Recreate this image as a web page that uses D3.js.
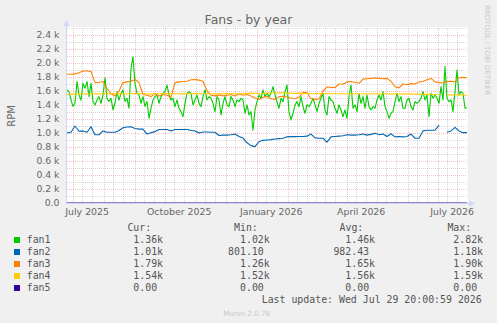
<!DOCTYPE html>
<html>
<head>
<meta charset="utf-8">
<script src="https://cdn.jsdelivr.net/npm/d3@7/dist/d3.min.js"></script>
<style>
  body { margin: 0; background: #f0f0f0; }
  svg { display: block; }
  text { font-family: "DejaVu Sans", sans-serif; fill: #666; }
  .mono { font-family: "DejaVu Sans Mono", monospace; font-size: 9.9px; fill: #555; white-space: pre; }
</style>
</head>
<body>
<div id="chart"></div>
<script>
'use strict';

// time window of the munin "year" graph (400 days)
var startTime = new Date(2025, 5, 24, 20, 0, 59);
var endTime = new Date(2026, 6, 29, 20, 0, 59);

var seriesNames = ['fan1', 'fan2', 'fan3', 'fan4', 'fan5'];
var seriesColors = ['#00cc00', '#0066b3', '#ff8000', '#ffcc00', '#330099'];

// fan1: one sample every 2 days
var fan1 = [
  1615, 1590, 1470, 1380, 1425, 1735, 1545, 1470, 1710, 1640, 1735, 1520, 1710, 1450, 1400, 1470, 1520,
  1425, 1545, 1790, 1495, 1450, 1495, 1330, 1425, 1590, 1470, 1565, 1615, 1450, 1495, 1355, 1925, 2090,
  1710, 1565, 1545, 1425, 1520, 1380, 1450, 1210, 1355, 1470, 1520, 1545, 1425, 1520, 1565, 1590, 1685,
  1543, 1472, 1496, 1377, 1472, 1353, 1305, 1234, 1424, 1567, 1591, 1567, 1401, 1472, 1543, 1424, 1377,
  1520, 1615, 1472, 1520, 1496, 1424, 1305, 1520, 1472, 1258, 1424, 1520, 1401, 1377, 1520, 1472, 1377,
  1472, 1448, 1496, 1472, 1282, 1401, 1258, 1305, 1040, 1329, 1448, 1543, 1496, 1615, 1520, 1567,
  1520, 1567, 1662, 1543, 1448, 1353, 1496, 1448, 1591, 1686, 1305, 1186, 1282, 1401, 1448, 1377, 1520,
  1377, 1282, 1401, 1377, 1424, 1496, 1401, 1305, 1424, 1496, 1567, 1329, 1258, 1520, 1472, 1448, 1353,
  1282, 1401, 1329, 1234, 1329, 1210, 1520, 1686, 1353, 1401, 1305, 1567, 1424, 1520, 1353, 1543,
  1377, 1329, 1377, 1353, 1472, 1543, 1472, 1591, 1377, 1305, 1210, 1282, 1305, 1448, 1567, 1448, 1520,
  1353, 1353, 1472, 1496, 1377, 1329, 1448, 1424, 1448, 1496, 1591, 1472, 1543, 1234, 1567, 1496, 1543,
  1496, 1424, 1662, 1472, 1948, 1496, 1448, 1472, 1305, 1591, 1900, 1543, 1591, 1567, 1353, 1360
];

// fan2 .. fan5: one sample every 4 days
var fan2 = [
  1000, 1010, 1100, 1025, 1030, 1010, 1090, 975, 975, 1030, 1010, 1010, 1010, 1035, 1075, 1085, 1090,
  1065, 1055, 1055, 985, 1005, 1020, 1050, 1050, 1050, 1030, 1050, 1050, 1050, 1050, 1035, 1030, 1000,
  1015, 1015, 1010, 1010, 965, 970, 970, 975, 985, 950, 930, 860, 820, 805, 875, 895, 900, 905, 915,
  920, 925, 945, 948, 948, 950, 950, 955, 985, 930, 925, 925, 870, 945, 950, 955, 960, 975, 970, 970,
  975, 985, 970, 980, 995, 975, 985, 950, 990, 945, 950, 945, 950, 985, 925, 925, 1030, 1040, 1040,
  1040, 1110, null, 1010, 1030, 1080, 1030, 1005, 1005
];
var fan3 = [
  1840, 1840, 1845, 1860, 1885, 1885, 1880, 1720, 1725, 1735, 1640, 1560, 1530, 1600, 1720, 1730, 1740,
  1765, 1720, 1550, 1540, 1520, 1560, 1530, 1550, 1540, 1510, 1720, 1730, 1735, 1740, 1760, 1765, 1755,
  1740, 1600, 1540, 1530, 1545, 1530, 1540, 1550, 1530, 1560, 1540, 1550, 1530, 1500, 1480, 1510, 1520,
  1490, 1480, 1520, 1525, 1515, 1500, 1490, 1510, 1580, 1575, 1490, 1480, 1485, 1600, 1660, 1650, 1650,
  1700, 1700, 1730, 1735, 1725, 1710, 1770, 1775, 1780, 1785, 1780, 1775, 1780, 1740, 1660, 1645, 1700,
  1690, 1705, 1700, 1730, 1735, 1760, 1780, 1730, 1720, 1715, 1735, 1740, 1730, 1790, 1795, 1790
];
var fan4 = [
  1550, 1555, 1555, 1560, 1560, 1555, 1560, 1560, 1555, 1560, 1560, 1565, 1560, 1560, 1555, 1560, 1560,
  1565, 1560, 1560, 1560, 1555, 1560, 1560, 1560, 1565, 1560, 1560, 1560, 1555, 1560, 1560, 1565, 1560,
  1560, 1560, 1555, 1560, 1560, 1560, 1565, 1560, 1560, 1560, 1560, 1565, 1570, 1565, 1560, 1565, 1570,
  1575, 1575, 1570, 1575, 1570, 1570, 1565, 1570, 1565, 1565, 1560, 1565, 1560, 1560, 1565, 1560, 1560,
  1560, 1560, 1560, 1555, 1560, 1560, 1560, 1555, 1560, 1560, 1555, 1560, 1560, 1555, 1560, 1555, 1555,
  1560, 1555, 1555, 1555, 1550, 1555, 1550, 1550, 1550, null, 1545, 1545, 1540, 1545, 1545, 1540
];
var fan5 = [
  0, 0, 0, 0, 0, 0, 0, 0, 0, 0, 0, 0, 0, 0, 0, 0, 0, 0, 0, 0, 0, 0, 0, 0, 0, 0, 0, 0, 0, 0, 0, 0, 0, 0,
  0, 0, 0, 0, 0, 0, 0, 0, 0, 0, 0, 0, 0, 0, 0, 0, 0, 0, 0, 0, 0, 0, 0, 0, 0, 0, 0, 0, 0, 0, 0, 0, 0, 0,
  0, 0, 0, 0, 0, 0, 0, 0, 0, 0, 0, 0, 0, 0, 0, 0, 0, 0, 0, 0, 0, 0, 0, 0, 0, 0, 0, 0, 0, 0, 0, 0, 0
];

// legend table
var curValues = ['1.36k', '1.01k', '1.79k', '1.54k', '0.00'];
var minValues = ['1.02k', '801.10', '1.26k', '1.52k', '0.00'];
var avgValues = ['1.46k', '982.43', '1.65k', '1.56k', '0.00'];
var maxValues = ['2.82k', '1.18k', '1.90k', '1.59k', '0.00'];
var lastUpdate = 'Last update: Wed Jul 29 20:00:59 2026';

var width = 497;
var height = 323;
var plot = { left: 67, right: 467, top: 28, bottom: 203 };

var majorColor = 'rgba(230,90,90,0.38)';
var minorColor = 'rgba(128,128,128,0.3)';

var svg = d3.select('#chart')
    .append('svg')
        .attr('width', width)
        .attr('height', height);

svg.append('rect')
    .attr('width', width)
    .attr('height', height)
    .attr('fill', '#f0f0f0');

var x = d3.scaleTime()
    .domain([startTime, endTime])
    .range([plot.left, plot.right]);

var y = d3.scaleLinear()
    .domain([0, 2500])
    .range([plot.bottom, plot.top]);

// canvas
svg.append('rect')
    .attr('x', plot.left)
    .attr('y', plot.top - 1)
    .attr('width', plot.right - plot.left + 0.5)
    .attr('height', plot.bottom - plot.top + 1)
    .attr('fill', '#ffffff');

var grid = svg.append('g').attr('shape-rendering', 'crispEdges');

// horizontal grid: minor every 100, major every 200
var yTicks = d3.range(0, 2501, 100);
grid.selectAll('line.hgrid')
    .data(yTicks)
    .enter()
    .append('line')
    .attr('x1', plot.left)
    .attr('x2', plot.right)
    .attr('y1', d => Math.round(y(d)) + 0.5)
    .attr('y2', d => Math.round(y(d)) + 0.5)
    .attr('stroke', d => d % 200 === 0 ? majorColor : minorColor)
    .attr('stroke-dasharray', '1,1');

// vertical grid: minor every ~10 days, major at month start
var months = d3.timeMonth.range(d3.timeMonth.ceil(startTime), endTime);
var minorDays = [];
d3.timeMonth.range(d3.timeMonth.floor(startTime), endTime).forEach(function (m) {
    [10, 20].forEach(function (day) {
        var t = new Date(m.getFullYear(), m.getMonth(), day);
        if (t > startTime && t < endTime) minorDays.push(t);
    });
});

grid.selectAll('line.vminor')
    .data(minorDays)
    .enter()
    .append('line')
    .attr('x1', d => Math.round(x(d)) + 0.5)
    .attr('x2', d => Math.round(x(d)) + 0.5)
    .attr('y1', plot.top)
    .attr('y2', plot.bottom)
    .attr('stroke', minorColor)
    .attr('stroke-dasharray', '1,1');

grid.selectAll('line.vmajor')
    .data(months)
    .enter()
    .append('line')
    .attr('x1', d => Math.round(x(d)) + 0.5)
    .attr('x2', d => Math.round(x(d)) + 0.5)
    .attr('y1', plot.top)
    .attr('y2', plot.bottom)
    .attr('stroke', majorColor)
    .attr('stroke-dasharray', '1,1');

// y labels
svg.selectAll('text.ylab')
    .data(d3.range(0, 2401, 200))
    .enter()
    .append('text')
    .attr('x', 59.5)
    .attr('y', d => y(d) + 3.4)
    .attr('text-anchor', 'end')
    .style('font-size', '9.3px')
    .text(d => d === 0 ? '0.0' : (d / 1000).toFixed(1) + ' k');

// x labels, centred mid-month every quarter
var quarterMonths = d3.timeMonth.every(3).range(d3.timeMonth.floor(startTime), endTime);
var fmt = d3.timeFormat('%B %Y');
svg.selectAll('text.xlab')
    .data(quarterMonths)
    .enter()
    .append('text')
    .attr('x', d => x(d3.timeDay.offset(d, 14)))
    .attr('y', 215)
    .attr('text-anchor', 'middle')
    .style('font-size', '9.4px')
    .text(d => fmt(d));

// series lines
function seriesPoints(values, stepDays) {
    return values.map(function (v, i) {
        return { t: d3.timeDay.offset(startTime, i * stepDays), v: v };
    });
}

var line = d3.line()
    .defined(d => d.v !== null)
    .x(d => x(d.t))
    .y(d => y(d.v));

var allSeries = [
    seriesPoints(fan1, 2),
    seriesPoints(fan2, 4),
    seriesPoints(fan3, 4),
    seriesPoints(fan4, 4),
    seriesPoints(fan5, 4)
];

svg.append('g')
    .selectAll('path')
    .data(allSeries)
    .enter()
    .append('path')
    .attr('d', d => line(d))
    .attr('fill', 'none')
    .attr('stroke', (d, i) => seriesColors[i])
    .attr('stroke-width', 1.1)
    .attr('stroke-linejoin', 'round');

// axes with arrows
var axisColor = '#cfd6f8';
svg.append('line')
    .attr('x1', plot.left - 0.5).attr('x2', plot.left - 0.5)
    .attr('y1', plot.bottom + 0.5).attr('y2', 24)
    .attr('stroke', axisColor);
svg.append('path')
    .attr('d', 'M' + (plot.left - 3.5) + ',26 L' + (plot.left - 0.5) + ',20 L' + (plot.left + 2.5) + ',26 Z')
    .attr('fill', axisColor);
svg.append('line')
    .attr('x1', plot.left - 1).attr('x2', 471)
    .attr('y1', plot.bottom + 0.5).attr('y2', plot.bottom + 0.5)
    .attr('stroke', axisColor);
svg.append('path')
    .attr('d', 'M469,' + (plot.bottom - 2.5) + ' L475,' + (plot.bottom + 0.5) + ' L469,' + (plot.bottom + 3.5) + ' Z')
    .attr('fill', axisColor);

// title
svg.append('text')
    .attr('x', 248.5)
    .attr('y', 24)
    .attr('text-anchor', 'middle')
    .style('font-size', '12.5px')
    .text('Fans - by year');

// vertical label
svg.append('text')
    .attr('transform', 'translate(14.5,116) rotate(-90)')
    .attr('text-anchor', 'middle')
    .style('font-size', '10px')
    .text('RPM');

// watermark
svg.append('text')
    .attr('transform', 'translate(485,5) rotate(90)')
    .attr('text-anchor', 'start')
    .style('font-size', '7px')
    .style('fill', '#c8c8c8')
    .text('RRDTOOL / TOBI OETIKER');

// legend
var legend = svg.append('g');
var headers = [['Cur:', 127.4], ['Min:', 234], ['Avg:', 339.5], ['Max:', 447.4]];
legend.selectAll('text.head')
    .data(headers)
    .enter()
    .append('text')
    .attr('class', 'mono')
    .attr('x', d => d[1])
    .attr('y', 231)
    .text(d => d[0]);

var rows = legend.selectAll('g.row')
    .data(seriesNames)
    .enter()
    .append('g')
    .attr('transform', (d, i) => 'translate(0,' + (242.5 + i * 12) + ')');

rows.append('rect')
    .attr('x', 14)
    .attr('y', -5.5)
    .attr('width', 6)
    .attr('height', 6)
    .attr('fill', (d, i) => seriesColors[i]);

rows.append('text')
    .attr('class', 'mono')
    .attr('x', 26.7)
    .text(d => d);

// numbers are aligned on the decimal point, like a printf column
function colX(base, s) {
    var intDigits = s.indexOf('.');
    return base - (intDigits - 1) * 5.96;
}

[[curValues, 133.3], [minValues, 240], [avgValues, 345.3], [maxValues, 453.3]].forEach(function (col) {
    rows.append('text')
        .attr('class', 'mono')
        .attr('x', (d, i) => colX(col[1], col[0][i]))
        .text((d, i) => col[0][i]);
});

svg.append('text')
    .attr('class', 'mono')
    .attr('x', 261.7)
    .attr('y', 302.5)
    .text(lastUpdate);

svg.append('text')
    .attr('x', 223.3)
    .attr('y', 315.5)
    .style('font-size', '7.2px')
    .style('fill', '#c8c8c8')
    .text('Munin 2.0.76');
</script>
</body>
</html>
